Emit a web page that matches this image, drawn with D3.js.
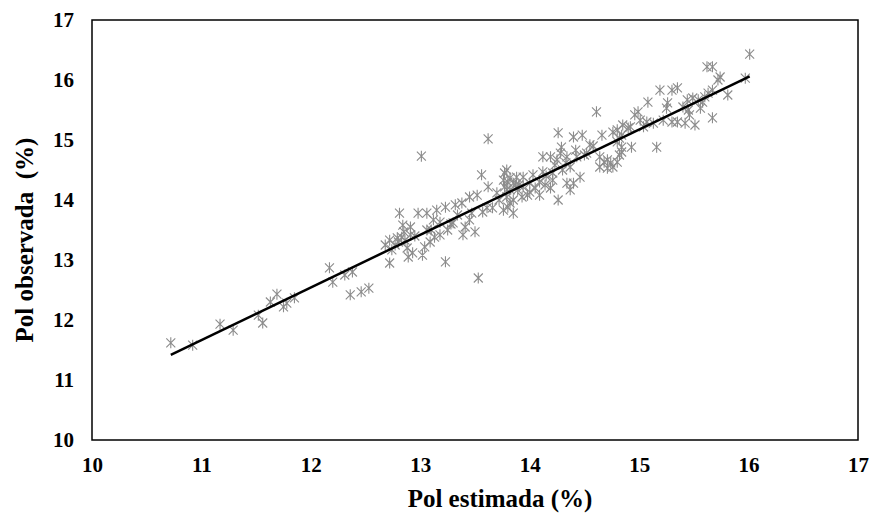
<!DOCTYPE html>
<html>
<head>
<meta charset="utf-8">
<script src="https://cdn.jsdelivr.net/npm/d3@7"></script>
<style>
    body { margin: 0; background: #fff; }
    svg { display: block; }
</style>
</head>
<body>
<svg width="870" height="515"></svg>
<script>
var width = 870;
var height = 515;
var serif = "'Liberation Serif', 'Times New Roman', 'DejaVu Serif', serif";

// Pol estimada (%) - x values
var polEstimada = [
    10.72, 10.92, 11.17, 11.29, 11.52, 11.56, 11.63, 11.69, 11.75, 11.78, 11.85,
    12.17, 12.20, 12.31, 12.38, 12.36, 12.46, 12.53,
    12.81, 12.98, 13.06, 13.23, 13.38, 13.45, 13.52, 13.62, 12.84, 12.91, 12.68, 12.72,
    12.79, 12.83, 12.86, 12.91, 12.77, 12.88, 12.93, 12.72, 12.89, 13.04, 13.09, 13.13,
    13.06, 13.18, 13.25, 13.30, 13.34, 13.41, 13.39, 13.50, 13.45, 13.57, 13.61, 13.23,
    13.53, 13.76, 13.82, 13.79, 13.85, 13.02, 13.12, 13.01, 13.62,
    14.26, 14.40, 14.48, 14.66, 14.76, 14.84, 14.55, 14.29, 14.19, 14.12, 14.25, 14.34,
    14.43, 14.52, 14.64, 14.71, 14.80, 14.64, 14.76, 13.77, 13.76, 13.80, 13.88, 13.94,
    14.03, 14.12, 14.21, 14.30, 14.37, 14.46, 14.40, 14.34, 14.21, 14.09, 14.00, 13.94,
    13.89, 13.82, 13.77, 13.79, 13.85, 13.93, 14.00, 14.09, 14.19, 14.37, 14.26, 13.80,
    13.85, 13.70, 13.66,
    16.01, 15.62, 15.67, 15.74, 15.72, 15.97, 15.81, 15.19, 15.30, 15.35, 15.08, 15.26,
    15.25, 15.44, 15.49, 15.54, 15.58, 15.63, 15.67, 15.45, 15.46, 15.56, 15.67, 15.51,
    15.42, 15.35, 15.30, 15.22, 15.13, 15.07, 15.01, 14.99, 14.96, 14.92, 14.85, 14.80,
    14.82, 14.84, 14.93, 15.16, 15.04, 14.80,
    14.61, 14.90, 14.68, 14.74, 14.71, 14.84, 14.82, 13.56, 13.15, 12.80, 12.85, 12.74,
    13.82, 13.87, 13.79, 14.28, 14.42, 14.23, 13.98, 14.05, 14.14, 13.32, 13.18,
    12.95, 13.10, 13.28, 13.47, 13.72, 13.90, 14.15, 14.33, 14.50, 14.58, 15.40, 15.60
];

// Pol observada (%) - y values
var polObservada = [
    11.62, 11.58, 11.93, 11.83, 12.08, 11.95, 12.30, 12.43, 12.22, 12.28, 12.37,
    12.87, 12.63, 12.75, 12.80, 12.42, 12.47, 12.53,
    13.78, 13.78, 13.78, 13.88, 13.95, 14.05, 14.08, 14.22, 13.58, 13.55, 13.25, 13.33,
    13.37, 13.38, 13.33, 13.42, 13.25, 13.20, 13.12, 12.95, 13.05, 13.22, 13.30, 13.38,
    13.50, 13.42, 13.50, 13.62, 13.75, 13.55, 13.42, 13.47, 13.67, 13.80, 13.87, 12.97,
    12.70, 13.83, 13.95, 14.17, 14.28, 13.08, 13.67, 14.73, 15.02,
    15.12, 15.05, 15.08, 15.08, 15.13, 15.08, 14.92, 14.88, 14.72, 14.72, 14.67, 14.72,
    14.72, 14.78, 14.72, 14.67, 14.63, 14.55, 14.55, 14.45, 14.33, 14.30, 14.38, 14.38,
    14.42, 14.47, 14.45, 14.50, 14.55, 14.38, 14.28, 14.28, 14.33, 14.30, 14.28, 14.22,
    14.17, 14.17, 14.22, 14.05, 14.00, 14.05, 14.13, 14.08, 14.20, 14.17, 14.00, 13.88,
    13.78, 14.12, 13.87,
    16.43, 16.22, 16.22, 16.05, 16.00, 16.03, 15.75, 15.83, 15.83, 15.87, 15.63, 15.62,
    15.53, 15.67, 15.70, 15.67, 15.63, 15.78, 15.83, 15.50, 15.42, 15.53, 15.37, 15.25,
    15.28, 15.30, 15.30, 15.33, 15.28, 15.30, 15.33, 15.47, 15.42, 15.22, 15.25, 15.17,
    15.03, 14.88, 14.88, 14.88, 15.22, 14.97,
    15.47, 15.20, 14.63, 14.62, 14.53, 14.80, 14.75, 14.42, 13.83, 13.30, 13.47, 13.17,
    14.37, 14.25, 14.50, 14.78, 14.83, 14.58, 14.08, 14.20, 14.25, 13.92, 13.63,
    13.40, 13.50, 13.60, 13.78, 14.00, 14.25, 14.40, 14.62, 14.75, 14.90, 15.55, 15.72
];

// trend line end points
var trendX = [10.72, 16.01];
var trendY = [11.42, 16.06];

var xTicks = [10, 11, 12, 13, 14, 15, 16, 17];
var yTicks = [10, 11, 12, 13, 14, 15, 16, 17];

var points = polEstimada.map(function (d, i) {
    return { x: d, y: polObservada[i] };
});
var trend = trendX.map(function (d, i) {
    return { x: d, y: trendY[i] };
});

var x = d3.scaleLinear().domain([10, 17]).range([92, 858]);
var y = d3.scaleLinear().domain([10, 17]).range([440, 20]);

var chart = d3.select('svg');

// axes (labels only, no tick marks)
function styleAxis(g) {
    g.select(".domain").remove();
    g.attr("font-family", serif)
        .attr("font-size", 21)
        .attr("font-weight", "bold");
    g.selectAll("text").attr("fill", "#000");
}

chart.append("g")
    .attr("transform", "translate(0," + y(10) + ")")
    .call(d3.axisBottom(x).tickValues(xTicks).tickSize(0).tickPadding(17).tickFormat(d3.format("d")))
    .call(styleAxis);

chart.append("g")
    .attr("transform", "translate(" + x(10) + ",0)")
    .call(d3.axisLeft(y).tickValues(yTicks).tickSize(0).tickPadding(18).tickFormat(d3.format("d")))
    .call(styleAxis);

// plot frame
chart.append("rect")
    .attr("x", x(10))
    .attr("y", y(17))
    .attr("width", x(17) - x(10))
    .attr("height", y(10) - y(17))
    .attr("fill", "none")
    .attr("stroke", "#000")
    .attr("stroke-width", 1.5);

// star markers
var star = "M0,-5.5V5.5M-4.5,-4.5L4.5,4.5M-4.5,4.5L4.5,-4.5";
chart.append("g")
    .selectAll("path")
    .data(points)
    .enter()
    .append("path")
    .attr("d", star)
    .attr("transform", function (d) { return "translate(" + x(d.x) + "," + y(d.y) + ")"; })
    .attr("fill", "none")
    .attr("stroke", "#8c8c8c")
    .attr("stroke-width", 1.1);

// trend line
var line = d3.line()
    .x(function (d) { return x(d.x); })
    .y(function (d) { return y(d.y); });
chart.append("path")
    .datum(trend)
    .attr("d", line)
    .attr("fill", "none")
    .attr("stroke", "#000")
    .attr("stroke-width", 2.5);

// axis titles
chart.append("text")
    .attr("x", 500)
    .attr("y", 507)
    .attr("text-anchor", "middle")
    .attr("font-family", serif)
    .attr("font-weight", "bold")
    .attr("font-size", 25)
    .text("Pol estimada (%)");

chart.append("text")
    .attr("transform", "translate(33,240) rotate(-90)")
    .attr("text-anchor", "middle")
    .attr("font-family", serif)
    .attr("font-weight", "bold")
    .attr("font-size", 25)
    .style("white-space", "pre")
    .text("Pol observada  (%)");
</script>
</body>
</html>
